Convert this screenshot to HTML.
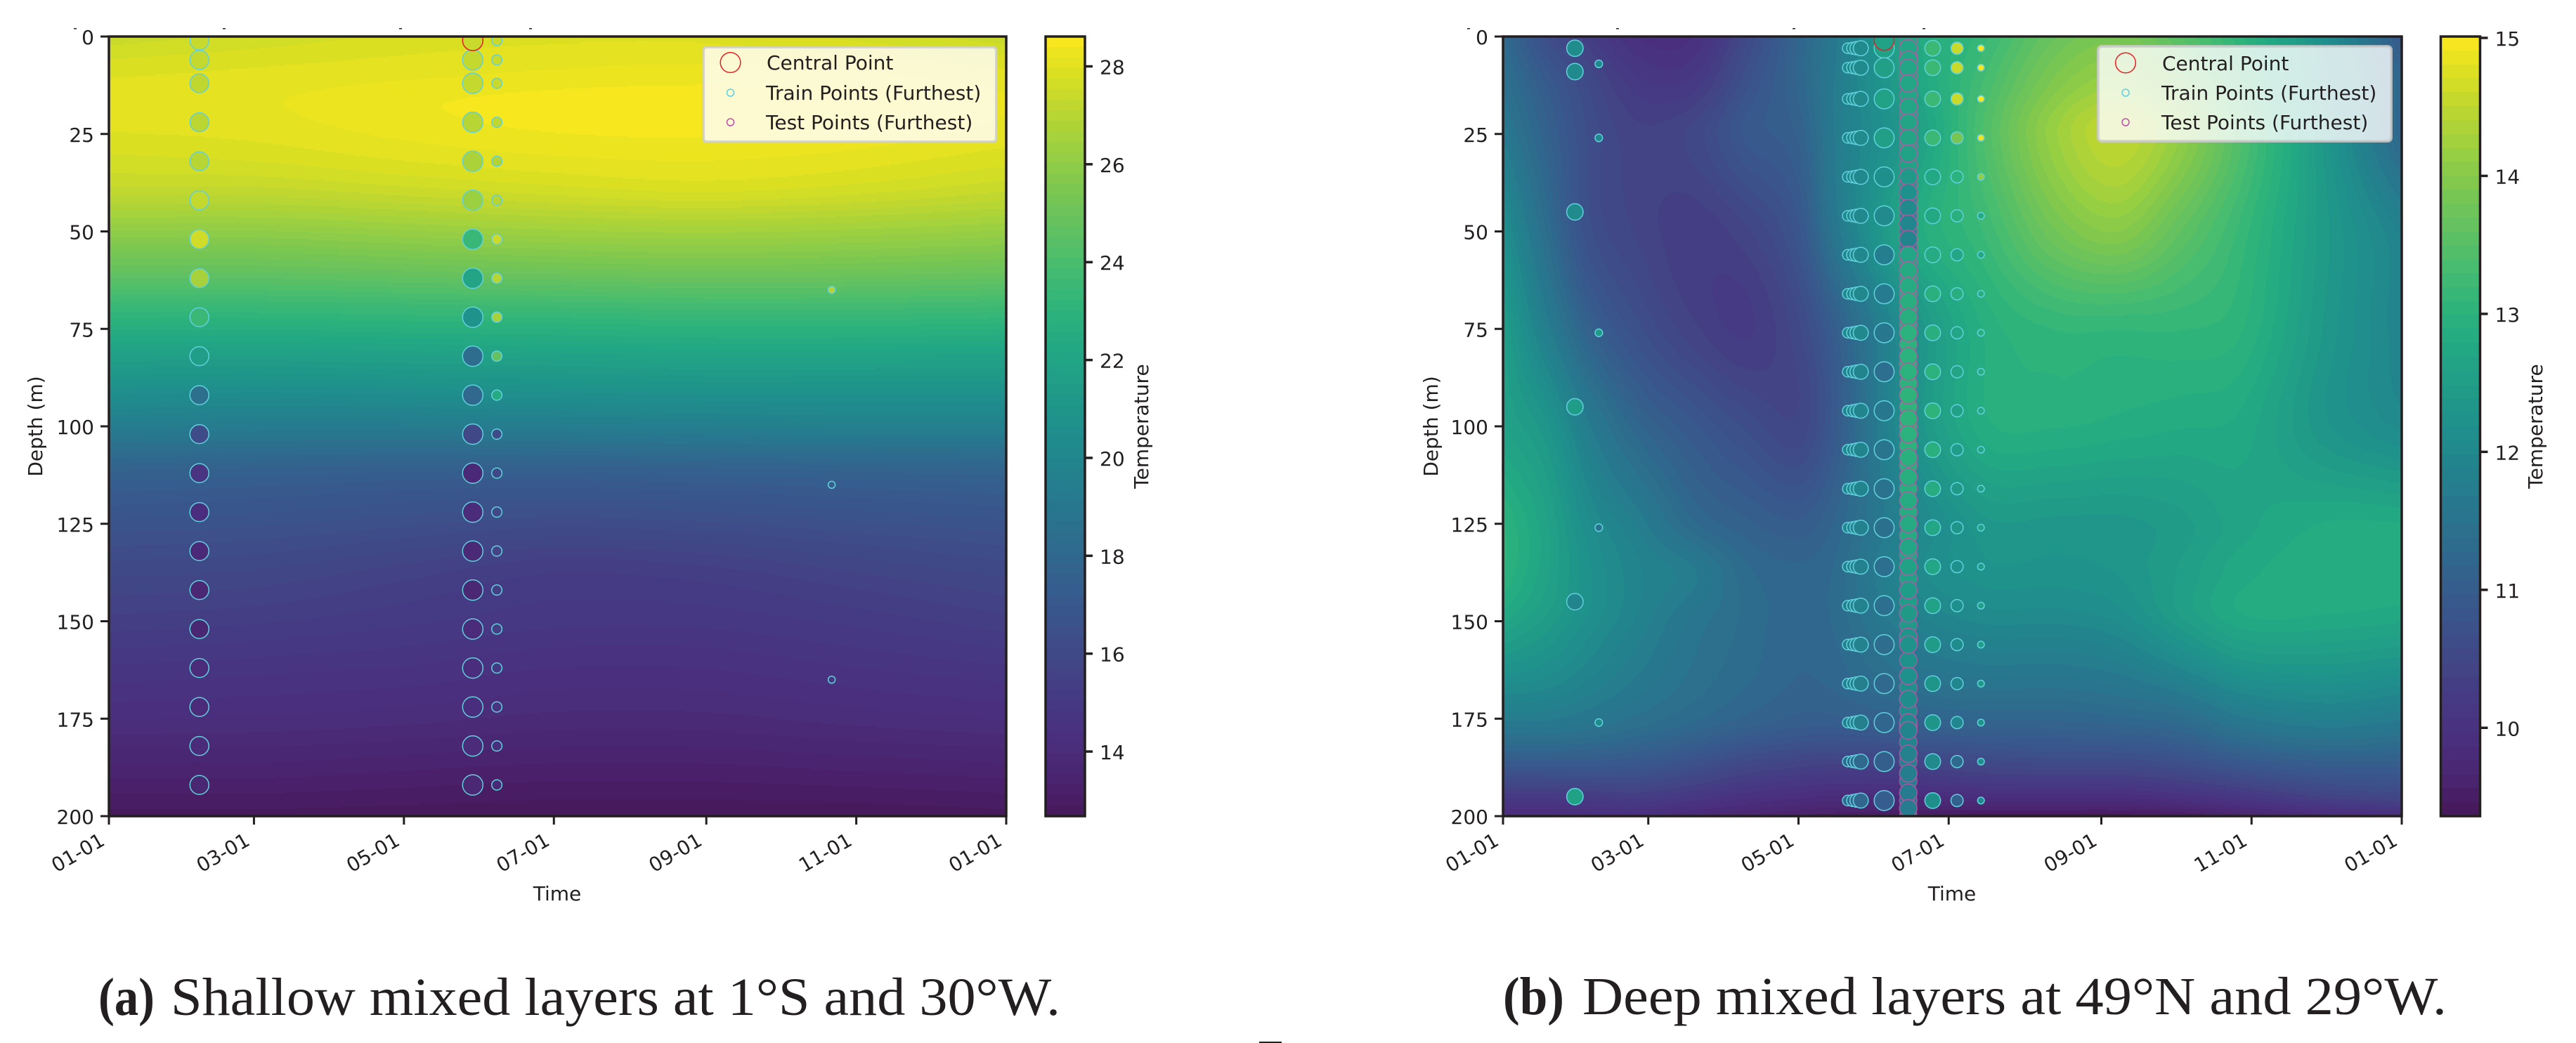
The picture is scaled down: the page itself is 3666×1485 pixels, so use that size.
<!DOCTYPE html>
<html lang="en">
<head>
<meta charset="utf-8">
<title>Mixed layer temperature sections</title>
<style>
html,body{margin:0;padding:0;background:#fff;}
svg{display:block;}
text{font-family:"DejaVu Sans",sans-serif;font-size:28px;fill:#231f20;}
.cap{font-family:"Liberation Serif",serif;font-size:76px;}
.capb{font-family:"Liberation Serif",serif;font-size:76px;font-weight:bold;}
</style>
</head>
<body>
<svg id="fig" xmlns="http://www.w3.org/2000/svg" width="3666" height="1485" viewBox="0 0 3666 1485">
<rect width="3666" height="1485" fill="#fff"/>
<defs>
<clipPath id="clipA"><rect x="155" y="52" width="1277" height="1110"/></clipPath>
<clipPath id="clipB"><rect x="2139" y="52" width="1279" height="1110"/></clipPath>
</defs>
<g id="panelA"></g>
<g id="panelB"></g>

<g fill="#231f20">
<rect x="105" y="40" width="4" height="1.5"/>
<rect x="317" y="40" width="4" height="1.5"/>
<rect x="568" y="40" width="4" height="1.5"/>
<rect x="753" y="40" width="4" height="1.5"/>
<rect x="2088" y="40" width="4" height="1.5"/>
<rect x="2300" y="40" width="4" height="1.5"/>
<rect x="2551" y="40" width="4" height="1.5"/>
<rect x="2736" y="40" width="4" height="1.5"/>
</g>

<g id="legendA">
<rect x="1001" y="67" width="417" height="135" rx="5" fill="#fff" fill-opacity="0.8" stroke="#cccccc" stroke-opacity="0.8" stroke-width="4"/>
<circle cx="1039.5" cy="89" r="14.3" fill="none" stroke="#ed1c24" stroke-width="1.5"/>
<circle cx="1039.5" cy="132" r="5" fill="none" stroke="#5ecfe0" stroke-width="1.5"/>
<circle cx="1039.5" cy="174" r="5" fill="none" stroke="#c04fa8" stroke-width="1.5"/>
<text x="1091" y="99">Central Point</text>
<text x="1090" y="142">Train Points (Furthest)</text>
<text x="1090" y="184">Test Points (Furthest)</text>
</g>

<g id="legendB">
<rect x="2986" y="66" width="417" height="135" rx="5" fill="#fff" fill-opacity="0.8" stroke="#cccccc" stroke-opacity="0.8" stroke-width="4"/>
<circle cx="3025" cy="89.5" r="14.3" fill="none" stroke="#ed1c24" stroke-width="1.5"/>
<circle cx="3025" cy="132" r="5" fill="none" stroke="#5ecfe0" stroke-width="1.5"/>
<circle cx="3025" cy="174" r="5" fill="none" stroke="#c04fa8" stroke-width="1.5"/>
<text x="3077" y="100">Central Point</text>
<text x="3076" y="142">Train Points (Furthest)</text>
<text x="3076" y="184">Test Points (Furthest)</text>
</g>

<text class="capb" x="140" y="1445" textLength="80" lengthAdjust="spacingAndGlyphs">(a)</text>
<text class="cap" x="243" y="1445" textLength="1266" lengthAdjust="spacingAndGlyphs">Shallow mixed layers at 1°S and 30°W.</text>
<text class="capb" x="2139" y="1444" textLength="87" lengthAdjust="spacingAndGlyphs">(b)</text>
<text class="cap" x="2252" y="1444" textLength="1230" lengthAdjust="spacingAndGlyphs">Deep mixed layers at 49°N and 29°W.</text>
<rect x="1792" y="1483" width="32" height="2" fill="#231f20"/>
</svg>

<script>
/* ---------- shared axis data ---------- */
const monthTickDays = [0, 59, 120, 181, 243, 304, 365];
const monthTickLabels = ['01-01', '03-01', '05-01', '07-01', '09-01', '11-01', '01-01'];
const depthTicks = [0, 25, 50, 75, 100, 125, 150, 175, 200];

/* ---------- panel (a) data ---------- */
const cbarTicksA = [14, 16, 18, 20, 22, 24, 26, 28];
const rangeA = [12.68, 28.61];
const fieldTimesA = [0, 60, 120, 180, 240, 300, 365];
const fieldDepthsA = [0, 9, 18, 30, 40, 50, 60, 71, 80, 90, 100, 111, 125, 137, 150, 162, 175, 187, 200];
const fieldA00 = [27.4, 27.6, 27.8, 27.9, 27.9, 27.7, 27.4];
const fieldA09 = [27.9, 28.0, 28.1, 28.2, 28.25, 28.2, 28.0];
const fieldA18 = [28.1, 28.15, 28.35, 28.5, 28.55, 28.5, 28.2];
const fieldA30 = [27.75, 27.85, 28.05, 28.2, 28.25, 28.15, 27.9];
const fieldA40 = [27.2, 27.2, 27.4, 27.6, 27.75, 27.6, 27.3];
const fieldA50 = [26.0, 26.0, 26.2, 26.4, 26.5, 26.4, 26.2];
const fieldA60 = [24.8, 24.8, 24.95, 25.1, 25.2, 25.15, 25.0];
const fieldA71 = [23.2, 23.2, 23.3, 23.4, 23.5, 23.5, 23.4];
const fieldA80 = [21.9, 21.9, 22.0, 22.1, 22.2, 22.2, 22.1];
const fieldA90 = [20.7, 20.6, 20.7, 20.8, 20.9, 20.9, 20.9];
const fieldA100 = [19.4, 19.3, 19.3, 19.4, 19.5, 19.6, 19.6];
const fieldA111 = [17.7, 17.6, 17.5, 17.5, 17.6, 17.7, 17.8];
const fieldA125 = [16.7, 16.6, 16.4, 16.2, 16.3, 16.5, 16.7];
const fieldA137 = [16.0, 15.9, 15.6, 15.3, 15.4, 15.7, 16.0];
const fieldA150 = [15.4, 15.3, 15.1, 14.9, 14.9, 15.1, 15.4];
const fieldA162 = [14.8, 14.7, 14.6, 14.4, 14.4, 14.6, 14.8];
const fieldA175 = [14.2, 14.15, 14.05, 13.9, 13.9, 14.05, 14.2];
const fieldA187 = [13.5, 13.5, 13.4, 13.3, 13.3, 13.4, 13.5];
const fieldA200 = [12.8, 12.8, 12.75, 12.7, 12.7, 12.7, 12.8];
const fieldRowsA = [fieldA00, fieldA09, fieldA18, fieldA30, fieldA40, fieldA50, fieldA60, fieldA71, fieldA80, fieldA90, fieldA100, fieldA111, fieldA125, fieldA137, fieldA150, fieldA162, fieldA175, fieldA187, fieldA200];

const trainDepthsA = [1, 6, 12, 22, 32, 42, 52, 62, 72, 82, 92, 102, 112, 122, 132, 142, 152, 162, 172, 182, 192];
const trainDayA1 = 36.8;
const trainTempsA1 = [27.4, 27.3, 27.2, 27.1, 27.0, 27.3, 27.6, 26.6, 23.5, 21.6, 18.5, 16.2, 14.6, 14.1, 13.9, 13.7, 13.6, 14.0, 14.0, 14.0, 13.6];
const trainDayA2 = 148;
const trainTempsA2 = [27.4, 27.3, 27.3, 27.0, 26.7, 26.3, 23.4, 22.0, 20.8, 18.3, 18.0, 15.9, 13.9, 14.0, 13.8, 13.7, 14.0, 14.1, 14.2, 14.0, 13.7];
const trainDayA3 = 157.8;
const trainTempsA3 = [27.5, 27.4, 27.4, 27.2, 26.9, 27.0, 27.5, 27.0, 26.6, 24.8, 22.4, 16.2, 16.0, 15.9, 15.6, 15.4, 15.3, 15.0, 14.6, 14.2, 13.8];
const farDayA = 294;
const farDepthsA = [65, 115, 165];
const farTempsA = [27.0, 17.5, 14.8];
const centralA = {day: 148, depth: 1, temp: 27.4};

/* ---------- panel (b) data ---------- */
const cbarTicksB = [10, 11, 12, 13, 14, 15];
const rangeB = [9.36, 15.01];
const fieldTimesB = [0, 18, 35, 55, 77, 99, 120, 135, 165, 195, 225, 250, 275, 300, 335, 365];
const fieldDepthsB = [0, 12, 25, 50, 75, 100, 125, 137, 150, 175, 187, 195, 200];
const fieldB000 = [11.3, 10.65, 10.3, 9.95, 9.95, 10.55, 11.2, 11.65, 12.7, 13.15, 13.7, 13.85, 13.5, 13.0, 12.1, 10.9];
const fieldB012 = [11.45, 10.95, 10.55, 10.2, 10.2, 10.75, 11.2, 11.7, 12.6, 13.3, 13.95, 14.15, 13.8, 13.2, 12.2, 11.2];
const fieldB025 = [11.65, 11.1, 10.65, 10.4, 10.5, 10.9, 11.1, 11.7, 12.45, 13.4, 14.2, 14.5, 14.1, 13.4, 12.3, 11.2];
const fieldB050 = [12.15, 11.35, 10.7, 10.45, 10.3, 10.45, 10.85, 11.6, 12.75, 13.2, 13.8, 14.0, 13.6, 13.15, 12.4, 11.85];
const fieldB075 = [12.5, 11.75, 11.1, 10.7, 10.4, 10.25, 10.55, 11.05, 12.2, 12.9, 13.1, 13.1, 13.1, 13.0, 12.35, 11.9];
const fieldB100 = [12.6, 12.3, 11.7, 11.2, 10.9, 10.65, 10.5, 10.95, 12.2, 12.85, 12.9, 12.85, 12.8, 12.75, 12.3, 12.05];
const fieldB125 = [13.0, 12.6, 12.1, 11.75, 11.3, 11.1, 11.0, 11.2, 11.9, 12.35, 12.35, 12.35, 12.45, 12.65, 12.8, 12.8];
const fieldB137 = [13.0, 12.6, 12.2, 11.9, 11.7, 11.3, 11.2, 11.3, 12.0, 12.25, 12.25, 12.3, 12.5, 12.75, 12.85, 12.85];
const fieldB150 = [12.7, 12.45, 12.15, 11.85, 11.55, 11.35, 11.2, 11.3, 11.8, 12.0, 12.0, 12.1, 12.45, 12.75, 12.75, 12.7];
const fieldB175 = [11.7, 11.7, 11.6, 11.45, 11.3, 11.15, 11.05, 11.05, 11.15, 11.2, 11.2, 11.25, 11.35, 11.65, 11.8, 11.7];
const fieldB187 = [10.9, 10.9, 10.9, 10.85, 10.7, 10.5, 10.4, 10.35, 10.4, 10.5, 10.55, 10.55, 10.65, 10.85, 11.0, 11.0];
const fieldB195 = [10.2, 10.2, 10.25, 10.3, 10.15, 10.0, 9.9, 9.85, 9.85, 9.9, 9.9, 9.9, 10.0, 10.15, 10.4, 10.5];
const fieldB200 = [9.85, 9.85, 9.9, 9.9, 9.75, 9.65, 9.55, 9.5, 9.45, 9.4, 9.4, 9.4, 9.45, 9.6, 9.8, 9.9];
const fieldRowsB = [fieldB000, fieldB012, fieldB025, fieldB050, fieldB075, fieldB100, fieldB125, fieldB137, fieldB150, fieldB175, fieldB187, fieldB195, fieldB200];

const trainDepthsB = [3, 8, 16, 26, 36, 46, 56, 66, 76, 86, 96, 106, 116, 126, 136, 146, 156, 166, 176, 186, 196];
const clusterDaysB = [140, 142, 143.6, 145.3];
const clusterTempsB = [12.05, 12.05, 12.05, 12.05, 12.0, 12.0, 12.0, 12.0, 12.0, 11.9, 11.9, 11.9, 11.9, 11.85, 11.85, 11.85, 11.85, 11.8, 11.8, 11.3, 11.2];
const trainDayB5 = 154.8;
const trainTempsB5 = [12.6, 12.55, 12.6, 12.55, 12.15, 12.05, 11.75, 11.7, 11.6, 11.4, 11.6, 11.55, 11.5, 11.45, 11.4, 11.4, 11.35, 11.3, 11.2, 11.05, 11.0];
const trainDayB6 = 174.5;
const trainTempsB6 = [13.2, 13.2, 13.2, 13.2, 12.75, 12.75, 12.8, 12.95, 12.9, 13.0, 13.05, 12.95, 12.85, 12.7, 12.7, 12.6, 12.45, 12.3, 12.3, 12.05, 12.15];
const trainDayB7 = 184.4;
const trainTempsB7 = [14.6, 14.6, 14.6, 13.85, 13.0, 12.95, 12.7, 12.9, 12.7, 12.65, 12.6, 12.5, 12.4, 12.3, 12.2, 12.15, 12.1, 11.95, 11.95, 11.3, 11.1];
const trainDayB8 = 194.1;
const trainTempsB8 = [15.0, 15.0, 15.0, 14.9, 14.1, 12.8, 12.75, 12.9, 12.9, 12.85, 12.8, 12.7, 12.6, 12.55, 12.5, 12.55, 12.5, 12.4, 12.3, 12.1, 12.0];
const farDayB1 = 29.2;
const farDepthsB1 = [3, 9, 45, 95, 145, 195];
const farTempsB1 = [12.1, 12.05, 12.05, 12.5, 11.9, 12.6];
const farDayB2 = 38.9;
const farDepthsB2 = [7, 26, 76, 126, 176];
const farTempsB2 = [12.0, 12.0, 12.4, 11.5, 12.1];
const testDayB = 164.6;
const testBackDepthsB = [1, 5, 10, 15, 20, 24, 28, 33, 38, 42, 46, 50, 54, 58, 62, 66, 70, 74, 79, 84, 89, 95, 100, 105, 110, 116, 122, 128, 133, 139, 145, 151, 155, 160, 167, 173, 177, 181, 186, 191, 196, 200];
const testDepthsB = [3, 6, 8, 12, 18, 22, 26, 30, 36, 40, 44, 48, 52, 56, 60, 64, 68, 72, 76, 82, 86, 92, 98, 102, 108, 113, 119, 125, 131, 136, 142, 148, 154, 156, 164, 170, 176, 178, 184, 189, 194, 198];
const testTempsB = [12.7, 12.7, 12.7, 12.7, 12.7, 12.65, 12.65, 12.6, 12.4, 12.2, 12.05, 11.95, 11.9, 12.7, 12.8, 12.85, 12.9, 12.9, 13.0, 13.0, 13.0, 13.05, 13.05, 13.0, 12.95, 12.9, 12.85, 12.8, 12.7, 12.6, 12.5, 12.4, 12.3, 12.25, 12.2, 12.1, 12.0, 11.9, 11.85, 11.75, 11.7, 11.7];
const centralB = {day: 154.8, depth: 1, temp: 12.6};

/* ---------- colour map (viridis as printed) ---------- */
const cmapStops = ['#46175a', '#4a2570', '#4a2f7f', '#463a84', '#414787', '#3b538b', '#345f8d', '#2e6c8e', '#27788e', '#22848d', '#1f908c', '#209c88', '#23a884', '#2db37b', '#45bb70', '#60c162', '#7ac651', '#98cf42', '#b8d533', '#d9df22', '#fbe81e'];

/* ---------- helpers ---------- */
const NS = 'http://www.w3.org/2000/svg';
function mk(tag, attrs, parent, txt) {
  const el = document.createElementNS(NS, tag);
  for (const k in attrs) el.setAttribute(k, attrs[k]);
  if (txt !== undefined) el.textContent = txt;
  parent.appendChild(el);
  return el;
}
function hex(c) { return [1, 3, 5].map(i => parseInt(c.substr(i, 2), 16)); }
function cmap(f) {
  f = Math.max(0, Math.min(1, f));
  const p = f * (cmapStops.length - 1), i = Math.min(Math.floor(p), cmapStops.length - 2), t = p - i;
  const a = hex(cmapStops[i]), b = hex(cmapStops[i + 1]);
  return 'rgb(' + a.map((v, k) => Math.round(v + (b[k] - v) * t)).join(',') + ')';
}
/* smooth interpolation over non-uniform knots, used only to paint between read-off grid values */
function hermite(xs, ys, x) {
  const n = xs.length;
  if (x <= xs[0]) return ys[0];
  if (x >= xs[n - 1]) return ys[n - 1];
  let i = 0;
  while (x > xs[i + 1]) i++;
  const h = xs[i + 1] - xs[i], t = (x - xs[i]) / h;
  const slope = j => j <= 0 ? (ys[1] - ys[0]) / (xs[1] - xs[0])
    : j >= n - 1 ? (ys[n - 1] - ys[n - 2]) / (xs[n - 1] - xs[n - 2])
    : (ys[j + 1] - ys[j - 1]) / (xs[j + 1] - xs[j - 1]);
  const m0 = slope(i) * h, m1 = slope(i + 1) * h;
  const t2 = t * t, t3 = t2 * t;
  return (2 * t3 - 3 * t2 + 1) * ys[i] + (t3 - 2 * t2 + t) * m0 + (-2 * t3 + 3 * t2) * ys[i + 1] + (t3 - t2) * m1;
}

function Panel(root, cfg) {
  this.root = root; this.cfg = cfg;
  this.x = d => cfg.left + d * (cfg.right - cfg.left) / 365;
  this.y = d => cfg.top + d * (cfg.bottom - cfg.top) / 200;
  this.frac = t => (t - cfg.range[0]) / (cfg.range[1] - cfg.range[0]);
  this.color = t => cmap(this.frac(t));
}

function drawField(p, times, depths, rows) {
  const c = p.cfg, step = 2, n = c.levels;
  const paths = new Array(n).fill('');
  const g = mk('g', {'shape-rendering': 'crispEdges'}, p.root);
  
  
  const bandOf = t => Math.max(0, Math.min(n - 1, Math.floor(p.frac(t) * n)));
  for (let x = c.left; x < c.right; x += step) {
    const day = (x + step / 2 - c.left) * 365 / (c.right - c.left);
    const col = rows.map(r => hermite(times, r, day));
    let runStart = c.top, runBand = -1;
    for (let y = c.top; y <= c.bottom; y += step) {
      const depth = (y + step / 2 - c.top) * 200 / (c.bottom - c.top);
      const b = y >= c.bottom ? -2 : bandOf(hermite(depths, col, depth));
      if (b !== runBand) {
        if (runBand >= 0) paths[runBand] += 'M' + x + ' ' + runStart + 'h' + step + 'v' + (y - runStart) + 'h-' + step + 'z';
        runStart = y; runBand = b;
      }
    }
  }
  paths.forEach((d, i) => {
    if (!d) return;
    const el = mk('path', {d: d, fill: cmap((i + 0.5) / n)}, g);
    
    
  });
}

function dot(p, day, depth, r, temp, stroke, name, parent, strokeOpacity) {
  const el = mk('circle', {cx: p.x(day), cy: p.y(depth), r: r, fill: temp === null ? 'none' : p.color(temp), stroke: stroke, 'stroke-width': 1.5, 'stroke-opacity': strokeOpacity === undefined ? 1 : strokeOpacity}, parent);
  
  
  return el;
}

function drawAxes(p) {
  const c = p.cfg, ink = '#231f20';
  const g = mk('g', {}, p.root);
  
  
  const frame = mk('rect', {x: c.left, y: c.top, width: c.right - c.left, height: c.bottom - c.top, fill: 'none', stroke: ink, 'stroke-width': 3.5}, g);
  
  
  monthTickDays.forEach((d, i) => {
    const tx = p.x(d);
    const t = mk('line', {x1: tx, x2: tx, y1: c.bottom, y2: c.bottom + 12, stroke: ink, 'stroke-width': 3}, g);
    
    
    const lx = tx - 4, ly = c.bottom + 40;
    const l = mk('text', {x: lx, y: ly, 'text-anchor': 'end', transform: 'rotate(-30 ' + lx + ' ' + ly + ')'}, g, monthTickLabels[i]);
    
    
  });
  depthTicks.forEach(d => {
    const ty = p.y(d);
    const t = mk('line', {x1: c.left - 12, x2: c.left, y1: ty, y2: ty, stroke: ink, 'stroke-width': 3}, g);
    
    
    const l = mk('text', {x: c.left - 21, y: ty + 11, 'text-anchor': 'end'}, g, String(d));
    
    
  });
  const xt = mk('text', {x: c.timeX, y: 1282, 'text-anchor': 'middle'}, g, 'Time');
  
  
  const yt = mk('text', {x: c.depthX, y: 607, 'text-anchor': 'middle', transform: 'rotate(-90 ' + c.depthX + ' 607)'}, g, 'Depth (m)');
  
  
}

function drawColorbar(p, ticks) {
  const c = p.cfg, ink = '#231f20';
  const g = mk('g', {}, p.root);
  
  
  const sc = t => c.bottom - p.frac(t) * (c.bottom - c.top);
  const inner = mk('g', {'shape-rendering': 'crispEdges'}, g);
  
  
  for (let i = 0; i < c.levels; i++) {
    const y0 = Math.round(c.bottom - (i + 1) / c.levels * (c.bottom - c.top));
    const y1 = Math.round(c.bottom - i / c.levels * (c.bottom - c.top));
    const b = mk('rect', {x: c.cbLeft, y: y0, width: c.cbRight - c.cbLeft, height: y1 - y0, fill: cmap((i + 0.5) / c.levels)}, inner);
    
    
  }
  const f = mk('rect', {x: c.cbLeft, y: c.top, width: c.cbRight - c.cbLeft, height: c.bottom - c.top, fill: 'none', stroke: ink, 'stroke-width': 3.5}, g);
  
  
  ticks.forEach(v => {
    const ty = sc(v);
    const t = mk('line', {x1: c.cbRight, x2: c.cbRight + 11, y1: ty, y2: ty, stroke: ink, 'stroke-width': 3.5}, g);
    
    
    const l = mk('text', {x: c.cbRight + 21, y: ty + 11}, g, String(v));
    
    
  });
  const title = mk('text', {x: c.tempX, y: 607, 'text-anchor': 'middle', transform: 'rotate(-90 ' + c.tempX + ' 607)'}, g, 'Temperature');
  
  
}

const CYAN = '#62d0dc', MAG = '#c64fa6', RED = '#ed1c24';

/* ---------- panel (a) ---------- */
const pA = new Panel(document.getElementById('panelA'), {
  left: 155, right: 1432, top: 52, bottom: 1162, range: rangeA, levels: 74,
  cbLeft: 1488, cbRight: 1544, timeX: 793, depthX: 60, tempX: 1634
});
drawField(pA, fieldTimesA, fieldDepthsA, fieldRowsA);
const scatterA = mk('g', {'clip-path': 'url(#clipA)'}, pA.root);


trainDepthsA.forEach((d, i) => { dot(pA, trainDayA1, d, 13.5, trainTempsA1[i], CYAN, 'train-point', scatterA); });
trainDepthsA.forEach((d, i) => { dot(pA, trainDayA2, d, 14.5, trainTempsA2[i], CYAN, 'train-point', scatterA); });
trainDepthsA.forEach((d, i) => { dot(pA, trainDayA3, d, 7.3, trainTempsA3[i], CYAN, 'train-point', scatterA); });
farDepthsA.forEach((d, i) => { dot(pA, farDayA, d, 5, farTempsA[i], CYAN, 'train-point-far', scatterA); });
dot(pA, centralA.day, centralA.depth, 14.5, centralA.temp, RED, 'central-point', scatterA);
drawAxes(pA);
drawColorbar(pA, cbarTicksA);

/* ---------- panel (b) ---------- */
const pB = new Panel(document.getElementById('panelB'), {
  left: 2139, right: 3418, top: 52, bottom: 1162, range: rangeB, levels: 56,
  cbLeft: 3473.5, cbRight: 3529.5, timeX: 2778, depthX: 2046, tempX: 3618
});
drawField(pB, fieldTimesB, fieldDepthsB, fieldRowsB);
const scatterB = mk('g', {'clip-path': 'url(#clipB)'}, pB.root);


farDepthsB1.forEach((d, i) => { dot(pB, farDayB1, d, 11.7, farTempsB1[i], CYAN, 'train-point-far', scatterB); });
farDepthsB2.forEach((d, i) => { dot(pB, farDayB2, d, 5.4, farTempsB2[i], CYAN, 'train-point-far', scatterB); });
const clusterRadii = [7.5, 8.5, 9.5, 10.7];
clusterDaysB.forEach((day, k) => {
  trainDepthsB.forEach((d, i) => { dot(pB, day, d, clusterRadii[k], clusterTempsB[i], CYAN, 'train-point', scatterB); });
});
trainDepthsB.forEach((d, i) => { dot(pB, trainDayB5, d, 14.2, trainTempsB5[i], CYAN, 'train-point', scatterB); });
testBackDepthsB.forEach((d, i) => { dot(pB, testDayB, d, 12.5, testTempsB[i], MAG, 'test-point', scatterB, 0.7); });
testDepthsB.forEach((d, i) => { dot(pB, testDayB, d, 12.5, testTempsB[i], MAG, 'test-point', scatterB, 0.85); });
trainDepthsB.forEach((d, i) => { dot(pB, trainDayB6, d, 11.2, trainTempsB6[i], CYAN, 'train-point', scatterB); });
trainDepthsB.forEach((d, i) => { dot(pB, trainDayB7, d, 8.7, trainTempsB7[i], CYAN, 'train-point', scatterB); });
trainDepthsB.forEach((d, i) => { dot(pB, trainDayB8, d, 4.8, trainTempsB8[i], CYAN, 'train-point', scatterB); });
dot(pB, centralB.day, centralB.depth, 14.2, centralB.temp, RED, 'central-point', scatterB);
drawAxes(pB);
drawColorbar(pB, cbarTicksB);

/* keep legends and captions above the panels */
const fig = document.getElementById('fig');
fig.appendChild(document.getElementById('legendA'));
fig.appendChild(document.getElementById('legendB'));
</script>
</body>
</html>
